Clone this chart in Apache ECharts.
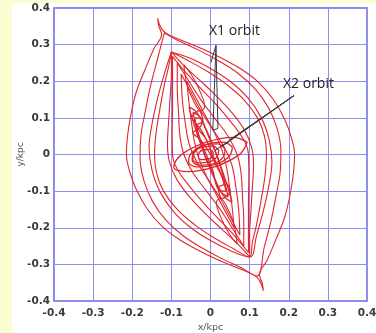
<!DOCTYPE html>
<html>
<head>
<meta charset="utf-8">
<script src="https://cdn.jsdelivr.net/npm/echarts@6/dist/echarts.min.js"></script>
<style>
  html, body { margin: 0; padding: 0; background: #fff; }
  #main { width: 376px; height: 333px; }
</style>
</head>
<body>
<div id="main"></div>
<script>
// x1 orbits (outer to inner), points in kpc
var orbitA = [[-0.135,0.372],[-0.126,0.345],[-0.112,0.33],[-0.07,0.31],[-0.02,0.288],[0.03,0.262],[0.08,0.232],[0.125,0.195],[0.162,0.148],[0.19,0.095],[0.207,0.045],[0.215,0.0],[0.212,-0.05],[0.205,-0.1],[0.19,-0.17],[0.168,-0.23],[0.144,-0.29],[0.125,-0.328],[0.132,-0.35],[0.135,-0.372],
  [0.126,-0.345],[0.112,-0.33],[0.07,-0.31],[0.02,-0.288],[-0.03,-0.262],[-0.08,-0.232],[-0.125,-0.195],[-0.162,-0.148],[-0.19,-0.095],[-0.207,-0.045],[-0.215,0.0],[-0.212,0.05],[-0.205,0.1],[-0.19,0.17],[-0.168,0.23],[-0.144,0.29],[-0.125,0.328],[-0.132,0.35],[-0.135,0.372]]
var orbitB = [[-0.118,0.332],[-0.08,0.31],[-0.03,0.285],[0.02,0.256],[0.07,0.222],[0.115,0.178],[0.148,0.128],[0.17,0.072],[0.18,0.01],[0.178,-0.05],[0.168,-0.11],[0.155,-0.18],[0.138,-0.25],[0.118,-0.332],
  [0.08,-0.31],[0.03,-0.285],[-0.02,-0.256],[-0.07,-0.222],[-0.115,-0.178],[-0.148,-0.128],[-0.17,-0.072],[-0.18,-0.01],[-0.178,0.05],[-0.168,0.11],[-0.155,0.18],[-0.138,0.25],[-0.118,0.332]]
var orbitC = [[-0.1,0.28],[-0.06,0.258],[-0.01,0.228],[0.04,0.192],[0.085,0.15],[0.12,0.1],[0.138,0.05],[0.143,0.0],[0.139,-0.06],[0.13,-0.12],[0.118,-0.19],[0.107,-0.24],[0.1,-0.28],
  [0.06,-0.258],[0.01,-0.228],[-0.04,-0.192],[-0.085,-0.15],[-0.12,-0.1],[-0.138,-0.05],[-0.143,0.0],[-0.139,0.06],[-0.13,0.12],[-0.118,0.19],[-0.107,0.24],[-0.1,0.28]]
var orbitC2 = [[-0.1,0.28],[-0.05,0.262],[0.0,0.235],[0.05,0.2],[0.095,0.155],[0.13,0.1],[0.15,0.04],[0.157,-0.02],[0.15,-0.08],[0.136,-0.15],[0.118,-0.22],[0.1,-0.28],
  [0.05,-0.262],[0.0,-0.235],[-0.05,-0.2],[-0.095,-0.155],[-0.13,-0.1],[-0.15,-0.04],[-0.157,0.02],[-0.15,0.08],[-0.136,0.15],[-0.118,0.22],[-0.1,0.28]]
var orbitD = [[-0.1,0.28],[-0.07,0.245],[-0.03,0.205],[0.01,0.165],[0.05,0.12],[0.085,0.07],[0.105,0.02],[0.11,-0.03],[0.107,-0.09],[0.103,-0.16],[0.1,-0.22],[0.1,-0.28],
  [0.07,-0.245],[0.03,-0.205],[-0.01,-0.165],[-0.05,-0.12],[-0.085,-0.07],[-0.105,-0.02],[-0.11,0.03],[-0.107,0.09],[-0.103,0.16],[-0.1,0.22],[-0.1,0.28]]
var orbitE = [[-0.097,0.268],[-0.06,0.22],[-0.02,0.175],[0.02,0.13],[0.055,0.085],[0.085,0.04],[0.097,0.0],[0.098,-0.06],[0.097,-0.13],[0.097,-0.2],[0.097,-0.268],
  [0.06,-0.22],[0.02,-0.175],[-0.02,-0.13],[-0.055,-0.085],[-0.085,-0.04],[-0.097,0.0],[-0.098,0.06],[-0.097,0.13],[-0.097,0.2],[-0.097,0.268]]
var orbitF = [[-0.085,0.25],[-0.055,0.2],[-0.025,0.15],[0.01,0.1],[0.045,0.05],[0.068,0.0],[0.078,-0.05],[0.082,-0.12],[0.085,-0.18],[0.085,-0.25],
  [0.055,-0.2],[0.025,-0.15],[-0.01,-0.1],[-0.045,-0.05],[-0.068,0.0],[-0.078,0.05],[-0.082,0.12],[-0.085,0.18],[-0.085,0.25]]
var orbitG = [[-0.075,0.22],[-0.05,0.17],[-0.025,0.12],[0.005,0.07],[0.035,0.02],[0.055,-0.03],[0.065,-0.09],[0.072,-0.15],[0.075,-0.22],
  [0.05,-0.17],[0.025,-0.12],[-0.005,-0.07],[-0.035,-0.02],[-0.055,0.03],[-0.065,0.09],[-0.072,0.15],[-0.075,0.22]]
var orbitH = [[-0.06,0.2],[-0.04,0.16],[-0.015,0.11],[0.01,0.06],[0.03,0.01],[0.042,-0.04],[0.05,-0.1],[0.056,-0.15],[0.06,-0.2],
  [0.04,-0.16],[0.015,-0.11],[-0.01,-0.06],[-0.03,-0.01],[-0.042,0.04],[-0.05,0.1],[-0.056,0.15],[-0.06,0.2]]
var lobeTop = [[-0.068,0.245],[-0.05,0.22],[-0.03,0.18],[-0.015,0.13],[-0.025,0.12],[-0.045,0.15],[-0.06,0.19],[-0.068,0.245]]
var lobeBottom = [[0.068,-0.245],[0.05,-0.22],[0.03,-0.18],[0.015,-0.13],[0.025,-0.12],[0.045,-0.15],[0.06,-0.19],[0.068,-0.245]]
// dense streak along the bar
var streak1 = [[-0.055,0.13],[-0.035,0.115],[-0.012,0.07],[0.012,0.01],[0.032,-0.05],[0.05,-0.11],[0.055,-0.13],[0.035,-0.115],[0.012,-0.07],[-0.012,-0.01],[-0.032,0.05],[-0.05,0.11],[-0.055,0.13]]
var streak2 = [[-0.045,0.115],[-0.025,0.1],[-0.005,0.05],[0.015,0.0],[0.03,-0.05],[0.045,-0.115],[0.025,-0.1],[0.005,-0.05],[-0.015,0.0],[-0.03,0.05],[-0.045,0.115]]
var streak3 = [[-0.05,0.1],[-0.03,0.12],[-0.02,0.09],[-0.035,0.08],[-0.01,0.04],[0.01,-0.02],[0.035,-0.08],[0.02,-0.09],[0.03,-0.12],[0.05,-0.1],[0.03,-0.06],[0.005,0.0],[-0.02,0.06],[-0.05,0.1]]
var streak4 = [[-0.04,0.1],[-0.02,0.095],[-0.03,0.07],[-0.045,0.06],[-0.025,0.04],[0.0,0.0],[0.025,-0.05],[0.04,-0.1],[0.02,-0.095],[0.005,-0.04],[-0.015,0.01],[-0.035,0.07],[-0.04,0.1]]
// x2 orbits (small ellipses across the bar)
var ring1 = [[0.094,0.034],[0.058,0.047],[-0.012,0.033],[-0.075,-0.001],[-0.094,-0.034],[-0.058,-0.047],[0.012,-0.033],[0.075,0.001],[0.094,0.034]]
var ring2 = [[0.056,0.02],[0.033,0.034],[-0.01,0.028],[-0.047,0.006],[-0.056,-0.02],[-0.033,-0.034],[0.01,-0.028],[0.047,-0.006],[0.056,0.02]]
var ring3 = [[0.037,0.015],[0.018,0.029],[-0.015,0.026],[-0.042,0.008],[-0.047,-0.015],[-0.028,-0.029],[0.005,-0.026],[0.032,-0.008],[0.037,0.015]]
var ring4 = [[0.021,0.012],[0.006,0.023],[-0.02,0.021],[-0.041,0.006],[-0.045,-0.012],[-0.03,-0.023],[-0.005,-0.021],[0.017,-0.006],[0.021,0.012]]
var ring5 = [[0.007,0.007],[-0.002,0.014],[-0.017,0.013],[-0.029,0.005],[-0.031,-0.007],[-0.022,-0.014],[-0.007,-0.013],[0.005,-0.005],[0.007,0.007]]
// pointer lines for the labels
var pointerX1 = [[0.001,0.251],[0.014,0.298],[0.006,0.066],[0.019,0.071],[0.014,0.298]]
var pointerX2 = [[0.0115,0.011],[0.2135,0.161],[0.029,0.022],[0.2135,0.161],[0.05,0.041]]

var outerOrbits = [orbitA, orbitB, orbitC, orbitC2, orbitD, orbitE, orbitF, orbitG, orbitH, lobeTop, lobeBottom]
var innerOrbits = [streak1, streak2, streak3, streak4, ring1, ring2, ring3, ring4, ring5]

var chart = echarts.init(document.getElementById('main'))

var series = []
outerOrbits.forEach(function (d) {
  series.push({
    type: 'line', data: d, smooth: 0.4, showSymbol: false, silent: true,
    lineStyle: { color: '#e0262c', width: 1.1 }
  })
})
innerOrbits.forEach(function (d) {
  series.push({
    type: 'line', data: d, smooth: 0.4, showSymbol: false, silent: true,
    lineStyle: { color: '#e0262c', width: 1.3 }
  })
})
;[pointerX1, pointerX2].forEach(function (d) {
  series.push({
    type: 'line', data: d, showSymbol: false, silent: true,
    lineStyle: { color: '#3c3c3c', width: 1 }
  })
})

var labelStyle = { color: '#3a3a3a', fontWeight: 'bold', fontSize: 10.5, fontFamily: 'DejaVu Sans' }

chart.setOption({
  animation: false,
  backgroundColor: '#fff',
  grid: {
    left: 54, right: 9, top: 8, bottom: 32,
    outerBoundsMode: 'none', containLabel: false,
    show: true, borderColor: '#6464e4', borderWidth: 1.5, backgroundColor: '#fff'
  },
  xAxis: {
    type: 'value', min: -0.4, max: 0.4, interval: 0.1,
    name: 'x/kpc', nameLocation: 'middle', nameGap: 22, nameMoveOverlap: false,
    nameTextStyle: { color: '#555', fontSize: 9.5, fontFamily: 'DejaVu Sans' },
    axisLine: { show: false }, axisTick: { show: false },
    axisLabel: Object.assign({ margin: 7 }, labelStyle),
    splitLine: { lineStyle: { color: '#8e8ef0', width: 1 } }
  },
  yAxis: {
    type: 'value', min: -0.4, max: 0.4, interval: 0.1,
    name: 'y/kpc', nameLocation: 'middle', nameGap: 29, nameMoveOverlap: false,
    nameTextStyle: { color: '#555', fontSize: 9, fontFamily: 'DejaVu Sans' },
    axisLine: { show: false }, axisTick: { show: false },
    axisLabel: Object.assign({ margin: 4 }, labelStyle),
    splitLine: { lineStyle: { color: '#8e8ef0', width: 1 } }
  },
  graphic: [
    { type: 'rect', shape: { x: 0, y: 0, width: 12, height: 333 }, style: { fill: '#fdfdd2' }, silent: true },
    { type: 'rect', shape: { x: 0, y: 0, width: 376, height: 3 }, style: { fill: '#fdfdd2' }, silent: true },
    { type: 'text', x: 209, y: 31, z: 100,
      style: { text: 'X1 orbit', font: '14px "Open Sans"', fill: '#222', verticalAlign: 'middle' } },
    { type: 'text', x: 283, y: 84, z: 100,
      style: { text: 'X2 orbit', font: '14px "Open Sans"', fill: '#222', verticalAlign: 'middle' } }
  ],
  series: series
})
</script>
</body>
</html>
